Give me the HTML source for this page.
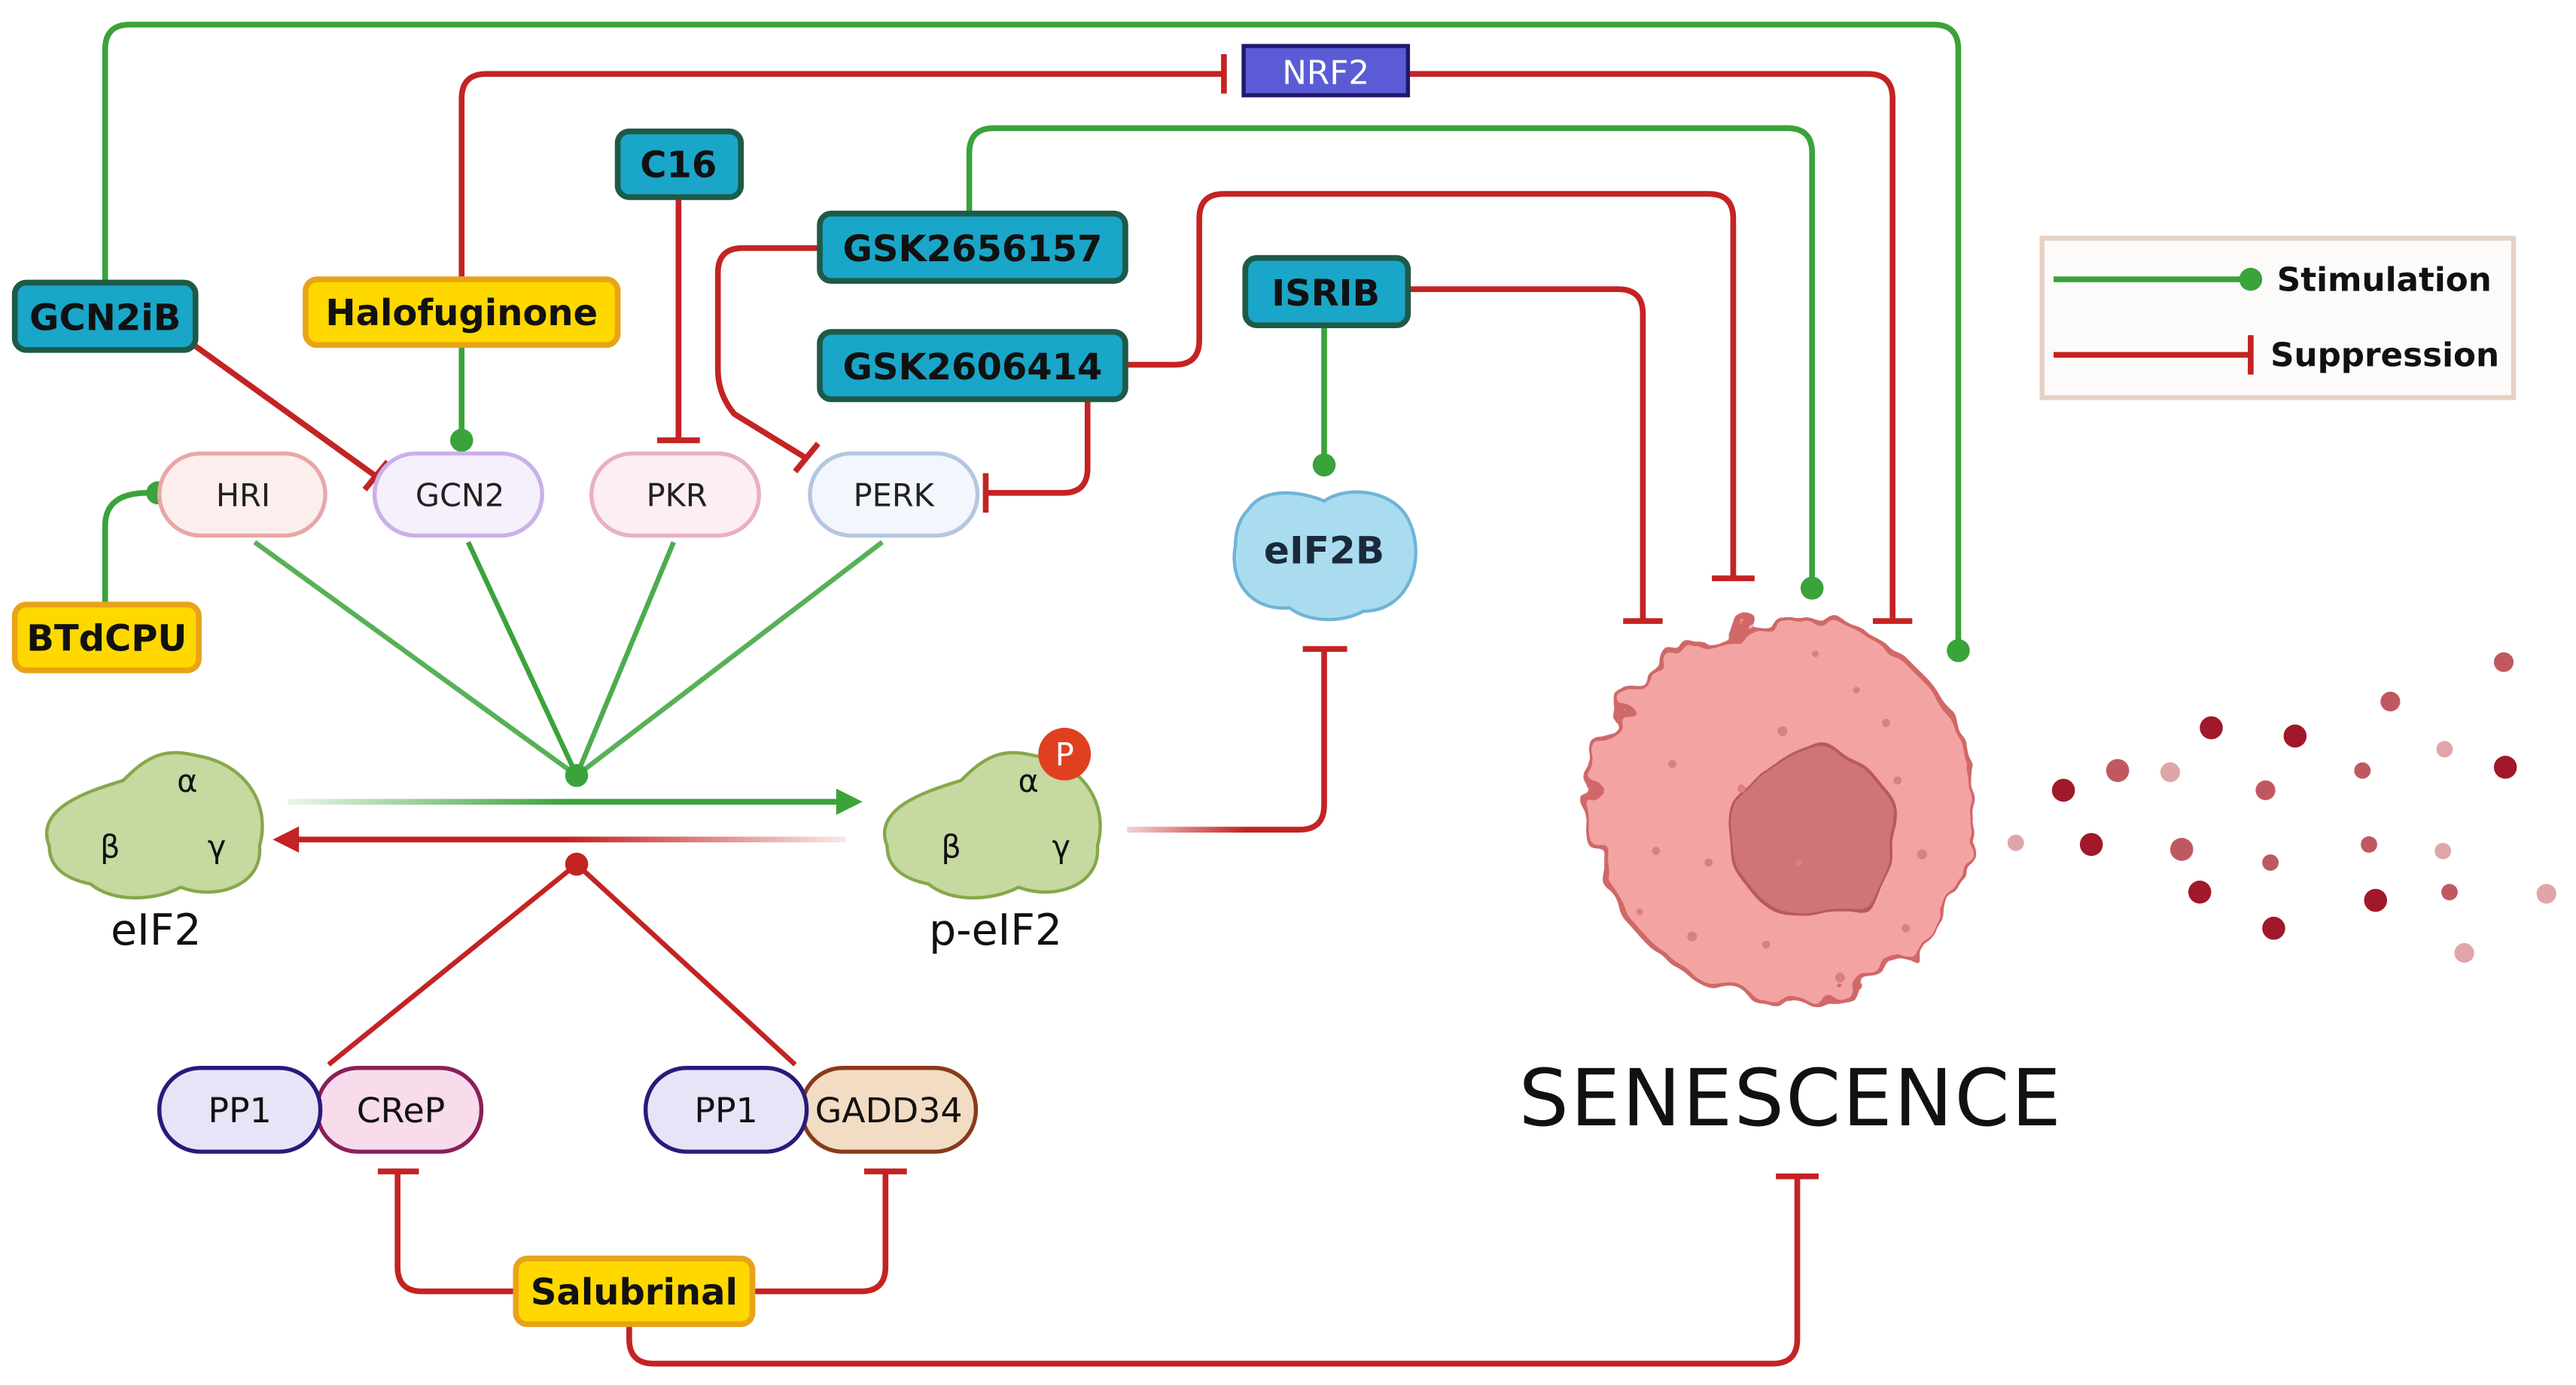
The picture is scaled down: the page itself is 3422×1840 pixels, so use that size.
<!DOCTYPE html>
<html><head><meta charset="utf-8"><style>
html,body{margin:0;padding:0;background:#fff;}
svg{display:block}
text{font-family:"DejaVu Sans","Liberation Sans",sans-serif;}
</style></head><body>
<svg width="3422" height="1840" viewBox="0 0 1568 843" preserveAspectRatio="none" xmlns="http://www.w3.org/2000/svg">
<defs>
<linearGradient id="gfadeR" gradientUnits="userSpaceOnUse" x1="175" y1="0" x2="515" y2="0"><stop offset="0" stop-color="#3aa33a" stop-opacity="0.1"/><stop offset="0.5" stop-color="#3aa33a"/></linearGradient>
<linearGradient id="rfadeL" gradientUnits="userSpaceOnUse" x1="515" y1="0" x2="178" y2="0"><stop offset="0" stop-color="#c42323" stop-opacity="0.1"/><stop offset="0.5" stop-color="#c42323"/></linearGradient>
<linearGradient id="rfadeP" gradientUnits="userSpaceOnUse" x1="686" y1="0" x2="806" y2="0"><stop offset="0" stop-color="#c42323" stop-opacity="0.2"/><stop offset="0.6" stop-color="#c42323"/></linearGradient>
<filter id="wob" x="-20%" y="-20%" width="140%" height="140%"><feTurbulence type="fractalNoise" baseFrequency="0.045" numOctaves="2" seed="4"/><feDisplacementMap in="SourceGraphic" scale="28"/></filter>
<filter id="wob2" x="-20%" y="-20%" width="140%" height="140%"><feTurbulence type="fractalNoise" baseFrequency="0.04" numOctaves="1" seed="7"/><feDisplacementMap in="SourceGraphic" scale="18"/></filter>
</defs>
<g fill="none" stroke-width="3.5" stroke-linecap="butt">
<path d="M64,175 V30 Q64,15 79,15 H1177 Q1192,15 1192,30 V396" stroke="#3aa33a"/>
<circle cx="1192" cy="396" r="7" fill="#3aa33a" stroke="none"/>
<path d="M281,170 V60 Q281,45 296,45 H745" stroke="#c42323"/>
<path d="M745,33 V57" stroke="#c42323"/>
<path d="M857,45 H1137 Q1152,45 1152,60 V378" stroke="#c42323"/>
<path d="M1140,378 H1164" stroke="#c42323"/>
<path d="M590,130 V93 Q590,78 605,78 H1088 Q1103,78 1103,93 V358" stroke="#3aa33a"/>
<circle cx="1103" cy="358" r="7" fill="#3aa33a" stroke="none"/>
<path d="M686,222 H715 Q730,222 730,207 V133 Q730,118 745,118 H1040 Q1055,118 1055,133 V352" stroke="#c42323"/>
<path d="M1042,352 H1068" stroke="#c42323"/>
<path d="M858,176 H985 Q1000,176 1000,191 V378" stroke="#c42323"/>
<path d="M988,378 H1012" stroke="#c42323"/>
<path d="M413,120 V268" stroke="#c42323"/><path d="M400,268 H426" stroke="#c42323"/>
<path d="M498,151 H452 Q437,151 437,166 V225 Q437,240 447,252 L491,279" stroke="#c42323"/>
<path d="M484,287 L498,270" stroke="#c42323"/>
<path d="M118,210 L229,290" stroke="#c42323"/><path d="M222,298 L236,281" stroke="#c42323"/>
<path d="M281,210 V268" stroke="#3aa33a"/><circle cx="281" cy="268" r="7" fill="#3aa33a" stroke="none"/>
<path d="M662,244 V285 Q662,300 647,300 H600" stroke="#c42323"/><path d="M600,288 V312" stroke="#c42323"/>
<path d="M64,367 V320 Q64,300 90,300 H96" stroke="#3aa33a"/><circle cx="96" cy="300" r="7" fill="#3aa33a" stroke="none"/>
<g stroke="#3aa33a" stroke-width="3">
<path d="M155,330 L351,472" opacity="0.85"/><path d="M285,330 L351,472"/><path d="M410,330 L351,472" opacity="0.9"/><path d="M537,330 L351,472" opacity="0.85"/>
</g>
<circle cx="351" cy="472" r="7" fill="#3aa33a" stroke="none"/>
<path d="M175,488 H515" stroke="url(#gfadeR)"/>
<polygon points="525,488 509,480 509,496" fill="#3aa33a" stroke="none"/>
<path d="M515,511 H178" stroke="url(#rfadeL)"/>
<polygon points="166,511 182,503 182,519" fill="#c42323" stroke="none"/>
<circle cx="351" cy="526" r="7" fill="#c42323" stroke="none"/>
<path d="M351,526 L200,648" stroke="#c42323" stroke-width="3"/>
<path d="M351,526 L484,648" stroke="#c42323" stroke-width="3"/>
<path d="M686,505 H791 Q806,505 806,490 V395" stroke="url(#rfadeP)"/>
<path d="M793,395 H820" stroke="#c42323"/>
<path d="M806,199 V283" stroke="#3aa33a"/><circle cx="806" cy="283" r="7" fill="#3aa33a" stroke="none"/>
<path d="M313,786 H257 Q242,786 242,771 V713" stroke="#c42323"/><path d="M230,713 H255" stroke="#c42323"/>
<path d="M458,786 H524 Q539,786 539,771 V713" stroke="#c42323"/><path d="M526,713 H552" stroke="#c42323"/>
<path d="M383,806 V815 Q383,830 398,830 H1079 Q1094,830 1094,815 V716" stroke="#c42323"/><path d="M1081,716 H1107" stroke="#c42323"/>
</g>

<g stroke-width="2.5" font-size="19" text-anchor="middle">
<rect x="97" y="276" width="101" height="50" rx="25" fill="#fdeeee" stroke="#e8a7a7"/><text x="148" y="308" fill="#222" stroke="none">HRI</text>
<rect x="228" y="276" width="102" height="50" rx="25" fill="#f6effc" stroke="#c9b1ea"/><text x="280" y="308" fill="#222" stroke="none">GCN2</text>
<rect x="360" y="276" width="102" height="50" rx="25" fill="#fdeef4" stroke="#e8b0c5"/><text x="412" y="308" fill="#222" stroke="none">PKR</text>
<rect x="493" y="276" width="102" height="50" rx="25" fill="#f3f6fc" stroke="#b5c6e0"/><text x="544" y="308" fill="#222" stroke="none">PERK</text>
</g>

<g stroke-width="3.5" font-size="22" font-weight="bold" text-anchor="middle">
<rect x="9" y="172" width="110" height="41" rx="7" fill="#1aa6c8" stroke="#1e5a48"/><text x="64" y="201" fill="#111">GCN2iB</text>
<rect x="186" y="170" width="190" height="40" rx="7" fill="#ffd800" stroke="#e8a317"/><text x="281" y="198" fill="#111">Halofuginone</text>
<rect x="376" y="80" width="75" height="40" rx="7" fill="#1aa6c8" stroke="#1e5a48"/><text x="413" y="108" fill="#111">C16</text>
<rect x="499" y="130" width="186" height="41" rx="7" fill="#1aa6c8" stroke="#1e5a48"/><text x="592" y="159" fill="#111">GSK2656157</text>
<rect x="499" y="202" width="186" height="41" rx="7" fill="#1aa6c8" stroke="#1e5a48"/><text x="592" y="231" fill="#111">GSK2606414</text>
<rect x="758" y="157" width="99" height="41" rx="7" fill="#1aa6c8" stroke="#1e5a48"/><text x="807" y="186" fill="#111">ISRIB</text>
<rect x="9" y="368" width="112" height="40" rx="7" fill="#ffd800" stroke="#e8a317"/><text x="65" y="396" fill="#111">BTdCPU</text>
<rect x="314" y="766" width="144" height="40" rx="7" fill="#ffd800" stroke="#e8a317"/><text x="386" y="794" fill="#111">Salubrinal</text>
<rect x="757" y="28" width="100" height="30" fill="#5b5bd6" stroke="#1e1a6a" stroke-width="2.5"/><text x="807" y="51" fill="#fff" font-weight="normal" font-size="20">NRF2</text>
</g>

<g stroke="#86a84a" stroke-width="2">
<path d="M30,515 C20,490 60,480 75,475 C90,460 100,455 120,460 C150,465 165,490 158,515 C160,540 130,548 110,540 C95,548 70,550 55,538 C40,535 30,528 30,515Z" fill="#c5d9a0"/>
<path d="M540,515 C530,490 570,480 585,475 C600,460 610,455 630,460 C660,465 675,490 668,515 C670,540 640,548 620,540 C605,548 580,550 565,538 C550,535 540,528 540,515Z" fill="#c5d9a0"/>
</g>
<g font-size="19" fill="#111" text-anchor="middle">
<text x="114" y="482">α</text><text x="67" y="522">β</text><text x="132" y="522">γ</text>
<text x="626" y="482">α</text><text x="579" y="522">β</text><text x="646" y="522">γ</text>
<text x="95" y="575" font-size="26">eIF2</text>
<text x="606" y="575" font-size="26">p-eIF2</text>
</g>
<circle cx="648" cy="459" r="16" fill="#e04020"/><text x="648" y="466" font-size="19" fill="#fff" text-anchor="middle">P</text>

<path d="M760,310 C770,295 795,300 806,305 C820,295 850,298 858,318 C868,340 858,372 830,372 C815,380 795,378 785,370 C760,372 748,352 752,332 C752,322 755,315 760,310Z" fill="#aadcf0" stroke="#6fb4d6" stroke-width="2"/>
<text x="806" y="343" font-size="23" font-weight="bold" fill="#1a2a3a" text-anchor="middle">eIF2B</text>

<g stroke-width="2.5" font-size="21" text-anchor="middle" fill="#111">
<rect x="193" y="650" width="100" height="51" rx="25" fill="#f8dcec" stroke="#8a1f5a"/>
<rect x="97" y="650" width="98" height="51" rx="25" fill="#e8e4f8" stroke="#2a1a7a"/>
<text x="146" y="683" stroke="none">PP1</text><text x="244" y="683" stroke="none">CReP</text>
<rect x="488" y="650" width="106" height="51" rx="25" fill="#f3dcc4" stroke="#8a3a1a"/>
<rect x="393" y="650" width="98" height="51" rx="25" fill="#e8e4f8" stroke="#2a1a7a"/>
<text x="442" y="683" stroke="none">PP1</text><text x="541" y="683" stroke="none">GADD34</text>
</g>

<g filter="url(#wob)"><circle cx="1086" cy="492" r="116" fill="#f4a3a3" stroke="#d06868" stroke-width="3"/></g>
<g filter="url(#wob2)"><ellipse cx="1104" cy="508" rx="50" ry="52" fill="#d07474" stroke="#b85a5a" stroke-width="2"/></g>
<g fill="#d98080">
<circle cx="1085" cy="445" r="3"/><circle cx="1060" cy="480" r="2.5"/><circle cx="1040" cy="525" r="2.5"/><circle cx="1030" cy="570" r="3"/><circle cx="1075" cy="575" r="2.5"/><circle cx="1120" cy="595" r="3"/><circle cx="1160" cy="565" r="2.5"/><circle cx="1170" cy="520" r="3"/><circle cx="1148" cy="440" r="2.5"/><circle cx="1008" cy="518" r="2.5"/><circle cx="1018" cy="465" r="2.5"/><circle cx="1130" cy="420" r="2"/><circle cx="1105" cy="398" r="2"/><circle cx="1155" cy="475" r="2.5"/><circle cx="998" cy="555" r="2"/><circle cx="1095" cy="525" r="2"/>
</g>
<g>
<circle cx="1256" cy="481" r="7" fill="#a0182a"/><circle cx="1289" cy="469" r="7" fill="#c05860"/><circle cx="1321" cy="470" r="6" fill="#e0a5a8"/><circle cx="1346" cy="443" r="7" fill="#a0182a"/><circle cx="1397" cy="448" r="7" fill="#a0182a"/><circle cx="1379" cy="481" r="6" fill="#c05860"/><circle cx="1455" cy="427" r="6" fill="#c05860"/><circle cx="1524" cy="403" r="6" fill="#c05860"/><circle cx="1488" cy="456" r="5" fill="#e0a5a8"/><circle cx="1438" cy="469" r="5" fill="#c05860"/><circle cx="1525" cy="467" r="7" fill="#a0182a"/>
<circle cx="1227" cy="513" r="5" fill="#e0a5a8"/><circle cx="1273" cy="514" r="7" fill="#a0182a"/><circle cx="1328" cy="517" r="7" fill="#c05860"/><circle cx="1382" cy="525" r="5" fill="#c05860"/><circle cx="1442" cy="514" r="5" fill="#c05860"/><circle cx="1487" cy="518" r="5" fill="#e0a5a8"/><circle cx="1339" cy="543" r="7" fill="#a0182a"/><circle cx="1446" cy="548" r="7" fill="#a0182a"/><circle cx="1491" cy="543" r="5" fill="#c05860"/><circle cx="1550" cy="544" r="6" fill="#e0a5a8"/><circle cx="1384" cy="565" r="7" fill="#a0182a"/><circle cx="1500" cy="580" r="6" fill="#e0a5a8"/>
</g>
<text x="1090" y="685" font-size="48" fill="#111" text-anchor="middle" letter-spacing="1">SENESCENCE</text>

<rect x="1243" y="145" width="287" height="97" fill="#fdfbf9" stroke="#e6d2c4" stroke-width="3"/>
<path d="M1250,170 H1370" stroke="#3aa33a" stroke-width="3.5"/><circle cx="1370" cy="170" r="7" fill="#3aa33a"/>
<path d="M1250,216 H1370" stroke="#c42323" stroke-width="3.5"/><path d="M1370,204 V228" stroke="#c42323" stroke-width="3.5"/>
<text x="1386" y="177" font-size="20" font-weight="bold" fill="#111">Stimulation</text>
<text x="1382" y="223" font-size="20" font-weight="bold" fill="#111">Suppression</text>
</svg>
</body></html>
